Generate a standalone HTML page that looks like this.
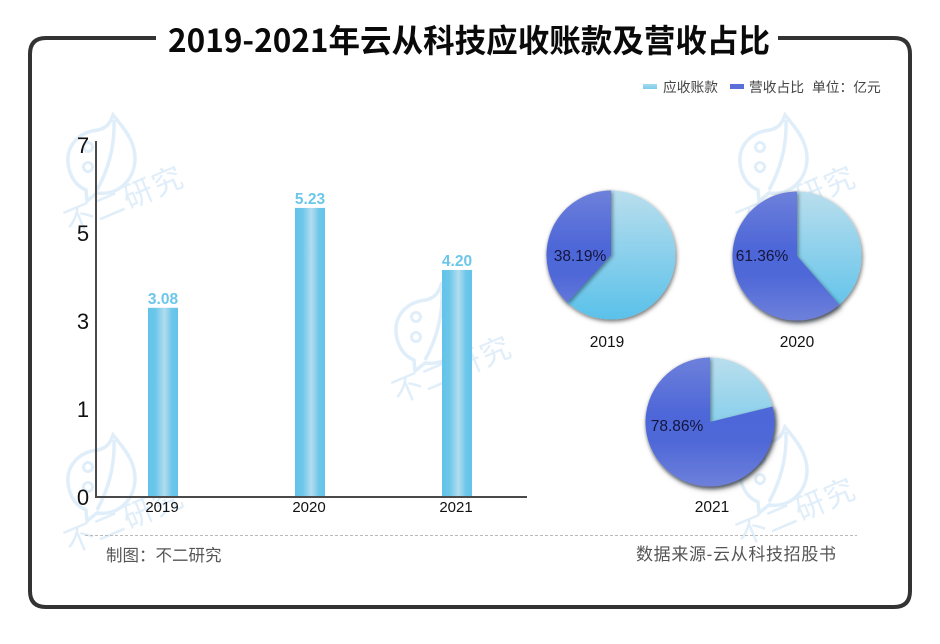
<!DOCTYPE html>
<html lang="zh">
<head>
<meta charset="utf-8">
<title>2019-2021年云从科技应收账款及营收占比</title>
<style>
  html, body { margin: 0; padding: 0; background: #fff; }
  #stage { position: relative; width: 940px; height: 644px; overflow: hidden; background: #fff; }
  svg { position: absolute; left: 0; top: 0; }
  text { font-family: "Liberation Sans", "Noto Sans CJK SC", sans-serif; }
</style>
</head>
<body>
<div id="stage">
<svg id="chart" width="940" height="644" viewBox="0 0 940 644" xmlns="http://www.w3.org/2000/svg">
  <defs>
    <g id="wm">
      <path d="M113 115 C110 124 106 128 98 130 C78 132 67 146 68 162 C69 176 76 186 86 190 L87 201 L97 193 C118 196 135 180 135 158 C135 140 122 126 113 115 Z" fill="none" stroke="#e0eefa" stroke-width="3.5"/>
      <path d="M114 120 C115 146 108 170 97 190" fill="none" stroke="#e0eefa" stroke-width="3.5"/>
      <circle cx="88" cy="167" r="4.5" fill="none" stroke="#e0eefa" stroke-width="3"/>
      <circle cx="88" cy="147" r="4.5" fill="none" stroke="#e0eefa" stroke-width="3"/>
      <text x="0" y="0" transform="translate(70,234) rotate(-23)" font-size="30" fill="#e0eefa" textLength="125">不二研究</text>
    </g>
    <filter id="pieShadow" x="-20%" y="-20%" width="140%" height="140%">
      <feDropShadow dx="1" dy="2" stdDeviation="2" flood-color="#000" flood-opacity="0.55"/>
    </filter>
    <filter id="sliceShadow" x="-20%" y="-20%" width="140%" height="140%">
      <feDropShadow dx="1.5" dy="1.5" stdDeviation="1.8" flood-color="#123" flood-opacity="0.5"/>
    </filter>
    <linearGradient id="barGrad" x1="0" y1="0" x2="1" y2="0">
      <stop offset="0" stop-color="#62c3ea"/>
      <stop offset="0.25" stop-color="#6cc7ea"/>
      <stop offset="0.55" stop-color="#b2dcee"/>
      <stop offset="0.8" stop-color="#6cc7ea"/>
      <stop offset="1" stop-color="#62c3ea"/>
    </linearGradient>
    <linearGradient id="lgLight" x1="0" y1="0" x2="0" y2="1">
      <stop offset="0" stop-color="#a4dbef"/>
      <stop offset="1" stop-color="#7ccbea"/>
    </linearGradient>
    <linearGradient id="lgDark" x1="0" y1="0" x2="0" y2="1">
      <stop offset="0" stop-color="#6d80da"/>
      <stop offset="0.5" stop-color="#4d66d8"/>
      <stop offset="1" stop-color="#6d80da"/>
    </linearGradient>
  </defs>

  <g>
    <use href="#wm"/>
    <use href="#wm" x="672" y="0"/>
    <use href="#wm" x="328" y="170"/>
    <use href="#wm" x="0" y="320"/>
    <use href="#wm" x="672" y="312"/>
  </g>

  <path d="M156 38 H46 Q30 38 30 54 V591 Q30 607 46 607 H894 Q910 607 910 591 V54 Q910 38 894 38 H778" fill="none" stroke="#333" stroke-width="4"/>
  <text x="469" y="52" text-anchor="middle" font-size="32" font-weight="700" fill="#0a0a0a" style="font-family:'Noto Sans CJK SC',sans-serif" textLength="602" lengthAdjust="spacingAndGlyphs">2019-2021年云从科技应收账款及营收占比</text>

  <g>
    <rect x="643" y="84" width="14" height="5" fill="url(#lgLight)"/>
    <text x="663" y="92" font-size="13.75" fill="#444">应收账款</text>
    <rect x="730" y="84" width="14" height="5" fill="#5a70d8"/>
    <text x="749" y="92" font-size="13.75" fill="#444">营收占比</text>
    <text x="812" y="92" font-size="13.75" fill="#444">单位：亿元</text>
  </g>

  <g id="bars"></g>
  <g id="pies"></g>

  <line x1="85" y1="535.5" x2="857" y2="535.5" stroke="#bbb" stroke-width="1" stroke-dasharray="3 2"/>
  <text x="106" y="561" font-size="16.5" fill="#555">制图：不二研究</text>
  <text x="636" y="560" font-size="17" fill="#555" textLength="200">数据来源-云从科技招股书</text>
</svg>
</div>
<script>
// Bar chart data
const years = ['2019', '2020', '2021'];
// Printed value labels above the bars
const printedValues = ['3.08', '5.23', '4.20'];
// Bar heights as read against the drawn y-axis
const barValues = [3.30, 5.57, 4.16];
// The drawn y-axis has evenly spaced, non-uniform tick labels
const yTicks = [0, 1, 3, 5, 7];
// Pie data: revenue share (%) per year
const pieYears = ['2019', '2020', '2021'];
const pieShares = [38.19, 61.36, 78.86];

const NS = 'http://www.w3.org/2000/svg';
const AXIS_X = 96, AXIS_BOTTOM = 497, AXIS_RIGHT = 527, TICK_STEP = 88;
const BAR_W = 30, FIRST_BAND = 163, BAND_STEP = 147;

function yScale(v) {
  for (let i = 1; i < yTicks.length; i++) {
    if (v <= yTicks[i] || i === yTicks.length - 1) {
      const t = (v - yTicks[i - 1]) / (yTicks[i] - yTicks[i - 1]);
      return AXIS_BOTTOM - (i - 1 + t) * TICK_STEP;
    }
  }
  return AXIS_BOTTOM;
}
function xBand(i) { return FIRST_BAND + i * BAND_STEP; }

function mk(tag, attrs, parent, txt) {
  const el = document.createElementNS(NS, tag);
  for (const k in attrs) el.setAttribute(k, attrs[k]);
  if (txt !== undefined) el.textContent = txt;
  parent.appendChild(el);
  return el;
}

const barsG = document.getElementById('bars');

const yAxisLine = mk('line', {x1: AXIS_X, y1: 141, x2: AXIS_X, y2: AXIS_BOTTOM + 1, stroke: '#4a4a4a', 'stroke-width': 2}, barsG);



yTicks.forEach(function (t) {
  const tick = mk('text', {x: 83, y: yScale(t) + 8, 'text-anchor': 'middle', 'font-size': 22, fill: '#111'}, barsG, String(t));
  
  
});

years.forEach(function (year, i) {
  const cx = xBand(i);
  const top = yScale(barValues[i]);
  const bar = mk('rect', {x: cx - BAR_W / 2, y: top, width: BAR_W, height: AXIS_BOTTOM - top, fill: 'url(#barGrad)'}, barsG);
  
  

  const val = mk('text', {x: cx, y: top - 4, 'text-anchor': 'middle', 'font-size': 15.5, 'font-weight': 700, fill: '#6cc6ea'}, barsG, printedValues[i]);
  
  

  const cat = mk('text', {x: cx - 1, y: 512, 'text-anchor': 'middle', 'font-size': 15, fill: '#111'}, barsG, year);
  
  
});

const xAxisLine = mk('line', {x1: AXIS_X - 1, y1: AXIS_BOTTOM, x2: AXIS_RIGHT, y2: AXIS_BOTTOM, stroke: '#4a4a4a', 'stroke-width': 2}, barsG);



// Pie layout (one slot per pie)
const PIE_R = 64.5;
function pieCenter(i) {
  if (i === 0) return {x: 611, y: 255, lx: 607, ly: 347, px: 580, py: 261};
  if (i === 1) return {x: 797, y: 256, lx: 797, ly: 347, px: 762, py: 261};
  return {x: 710, y: 422, lx: 712, ly: 512, px: 677, py: 431};
}
function polar(c, frac) {
  const a = frac * 2 * Math.PI;
  return {x: c.x + PIE_R * Math.sin(a), y: c.y - PIE_R * Math.cos(a)};
}
function sector(c, from, to) {
  const a = polar(c, from), b = polar(c, to);
  const large = (to - from) > 0.5 ? 1 : 0;
  return 'M' + c.x + ' ' + c.y + ' L' + a.x + ' ' + a.y + ' A' + PIE_R + ' ' + PIE_R + ' 0 ' + large + ' 1 ' + b.x + ' ' + b.y + ' Z';
}

const piesG = document.getElementById('pies');
const defs = document.querySelector('#chart defs');

pieShares.forEach(function (share, i) {
  const c = pieCenter(i);
  const frac = share / 100;
  const g = mk('g', {filter: 'url(#pieShadow)'}, piesG);
  
  

  const lg = mk('linearGradient', {id: 'pl' + i, gradientUnits: 'userSpaceOnUse', x1: 0, y1: c.y - PIE_R, x2: 0, y2: c.y + PIE_R}, defs);
  mk('stop', {offset: 0, 'stop-color': '#b9deed'}, lg);
  mk('stop', {offset: 1, 'stop-color': '#5ac1ea'}, lg);
  const dg = mk('linearGradient', {id: 'pd' + i, gradientUnits: 'userSpaceOnUse', x1: 0, y1: c.y - PIE_R, x2: 0, y2: c.y + PIE_R}, defs);
  mk('stop', {offset: 0, 'stop-color': '#6d80da'}, dg);
  mk('stop', {offset: 0.45, 'stop-color': '#4d66d8'}, dg);
  mk('stop', {offset: 0.65, 'stop-color': '#4f68d8'}, dg);
  mk('stop', {offset: 1, 'stop-color': '#6d80da'}, dg);

  const light = mk('path', {d: sector(c, 0, 1 - frac), fill: 'url(#pl' + i + ')'}, g);
  
  

  const dark = mk('path', {d: sector(c, 1 - frac, 1), fill: 'url(#pd' + i + ')', filter: 'url(#sliceShadow)'}, g);
  
  

  const pct = mk('text', {x: c.px, y: c.py, 'text-anchor': 'middle', 'font-size': 15.5, fill: '#14143c'}, piesG, share.toFixed(2) + '%');
  
  

  const yr = mk('text', {x: c.lx, y: c.ly, 'text-anchor': 'middle', 'font-size': 15.5, fill: '#111'}, piesG, pieYears[i]);
  
  
});
</script>
</body>
</html>
